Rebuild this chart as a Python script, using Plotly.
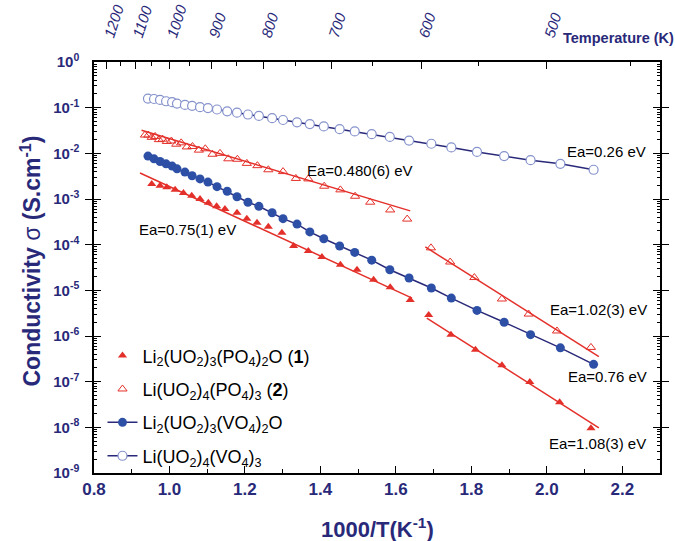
import numpy as np
import plotly.graph_objects as go

# ---------------- data ----------------
# 1000/T (K^-1) and log10(sigma / S.cm^-1)
x_vo_circles = [0.943, 0.959, 0.975, 0.991, 1.007, 1.020, 1.041, 1.060, 1.081, 1.102,
                1.126, 1.153, 1.179, 1.208, 1.237, 1.272, 1.301, 1.338, 1.372, 1.409,
                1.451, 1.491, 1.536, 1.584, 1.635, 1.694, 1.747, 1.815, 1.887, 1.957,
                2.036, 2.124]
logs_li2_vo = [-2.06, -2.12, -2.18, -2.23, -2.28, -2.34, -2.41, -2.49, -2.56, -2.63,
               -2.73, -2.83, -2.95, -3.07, -3.16, -3.30, -3.43, -3.55, -3.72, -3.87,
               -4.03, -4.17, -4.34, -4.55, -4.73, -4.95, -5.17, -5.44, -5.70, -5.97,
               -6.26, -6.62]
logs_li_vo = [-0.80, -0.81, -0.83, -0.86, -0.88, -0.91, -0.94, -0.96, -0.99, -1.01,
              -1.04, -1.08, -1.11, -1.15, -1.18, -1.23, -1.27, -1.32, -1.36, -1.41,
              -1.47, -1.52, -1.58, -1.64, -1.72, -1.79, -1.87, -1.97, -2.06, -2.15,
              -2.23, -2.36]

x_p1_hi = [0.953, 0.975, 0.993, 1.015, 1.037, 1.059, 1.081, 1.103, 1.125, 1.147,
           1.179, 1.205, 1.232, 1.262, 1.298, 1.329, 1.368, 1.404, 1.453, 1.497,
           1.541, 1.585, 1.638]
logs_p1_hi = [-2.67, -2.71, -2.74, -2.80, -2.87, -2.93, -3.00, -3.08, -3.16, -3.22,
              -3.30, -3.43, -3.52, -3.61, -3.74, -4.03, -4.14, -4.27, -4.44, -4.55,
              -4.77, -4.93, -5.21]
x_p1_lo = [1.687, 1.746, 1.811, 1.881, 1.955, 2.034, 2.117]
logs_p1_lo = [-5.54, -5.97, -6.30, -6.64, -7.01, -7.45, -8.02]

x_p2_hi = [0.935, 0.944, 0.953, 0.962, 0.972, 0.982, 0.993, 1.005, 1.018, 1.031,
           1.046, 1.061, 1.078, 1.095, 1.114, 1.134, 1.156, 1.180, 1.205, 1.233,
           1.262, 1.301, 1.335, 1.368, 1.410, 1.453, 1.492, 1.532, 1.585, 1.630]
logs_p2_hi = [-1.60, -1.60, -1.65, -1.63, -1.70, -1.69, -1.74, -1.73, -1.80, -1.77,
              -1.86, -1.85, -1.93, -1.90, -2.02, -2.00, -2.12, -2.13, -2.22, -2.27,
              -2.36, -2.40, -2.55, -2.56, -2.72, -2.80, -2.94, -3.07, -3.24, -3.44]
x_p2_lo = [1.693, 1.744, 1.808, 1.881, 1.952, 2.027, 2.117]
logs_p2_lo = [-4.07, -4.38, -4.72, -5.19, -5.52, -5.89, -6.25]

# Arrhenius fit segments (end points)
fit_p2_hi_x, fit_p2_hi_log = [0.926, 1.638], [-1.494, -3.26]
fit_p2_lo_x, fit_p2_lo_log = [1.678, 2.138], [-4.05, -6.45]
fit_p1_hi_x, fit_p1_hi_log = [0.922, 1.643], [-2.43, -5.17]
fit_p1_lo_x, fit_p1_lo_log = [1.682, 2.138], [-5.61, -8.01]

# top axis: temperatures
temps_major = [1200, 1100, 1000, 900, 800, 700, 600, 500]
temps_minor = [1150, 1050, 950, 850, 750, 650, 550, 450]

y_decades = [0, -1, -2, -3, -4, -5, -6, -7, -8, -9]

ea_labels = ["Ea=0.480(6) eV", "Ea=0.75(1) eV", "Ea=0.26 eV",
             "Ea=1.02(3) eV", "Ea=0.76 eV", "Ea=1.08(3) eV"]

# ---------------- styling ----------------
RED = "#e4302a"
NAVY = "#29297a"
BLUE = "#2d50a6"
LBLUE = "#8592cc"
FONT = "Liberation Sans, Arial, sans-serif"

def p(v):
    return [10 ** a for a in v]

fig = go.Figure()

# fit lines (no legend)
for fx, fl in [(fit_p2_hi_x, fit_p2_hi_log), (fit_p2_lo_x, fit_p2_lo_log),
               (fit_p1_hi_x, fit_p1_hi_log), (fit_p1_lo_x, fit_p1_lo_log)]:
    fig.add_trace(go.Scatter(x=fx, y=p(fl), mode="lines",
                             line=dict(color=RED, width=1.5), showlegend=False,
                             hoverinfo="skip"))

fig.add_trace(go.Scatter(
    x=x_p1_hi + x_p1_lo, y=p(logs_p1_hi + logs_p1_lo), mode="markers",
    marker=dict(symbol="triangle-up", size=8, color=RED, line=dict(width=0)),
    legendgroup="g1",
    name="Li<sub>2</sub>(UO<sub>2</sub>)<sub>3</sub>(PO<sub>4</sub>)<sub>2</sub>O (<b>1</b>)"))
fig.add_trace(go.Scatter(
    x=x_p2_hi + x_p2_lo, y=p(logs_p2_hi + logs_p2_lo), mode="markers",
    marker=dict(symbol="triangle-up-open", size=8, color=RED, line=dict(width=1)),
    legendgroup="g2",
    name="Li(UO<sub>2</sub>)<sub>4</sub>(PO<sub>4</sub>)<sub>3</sub> (<b>2</b>)"))
fig.add_trace(go.Scatter(
    x=x_vo_circles, y=p(logs_li2_vo), mode="lines+markers",
    line=dict(color=NAVY, width=1.5),
    marker=dict(symbol="circle", size=9, color=BLUE),
    legendgroup="g3",
    name="Li<sub>2</sub>(UO<sub>2</sub>)<sub>3</sub>(VO<sub>4</sub>)<sub>2</sub>O"))
fig.add_trace(go.Scatter(
    x=x_vo_circles, y=p(logs_li_vo), mode="lines+markers",
    line=dict(color=NAVY, width=1.5),
    marker=dict(symbol="circle", size=9, color="white", line=dict(color=LBLUE, width=1.2)),
    legendgroup="g4",
    name="Li(UO<sub>2</sub>)<sub>4</sub>(VO<sub>4</sub>)<sub>3</sub>"))

# invisible traces carrying the extra (tick-only) axes
for xa, ya in [("x2", "y"), ("x3", "y"), ("x4", "y"), ("x", "y2"), ("x", "y3")]:
    fig.add_trace(go.Scatter(x=[0.8, 2.3], y=[1e-9, 1e-9], xaxis=xa, yaxis=ya,
                             mode="markers", marker=dict(opacity=0),
                             showlegend=False, hoverinfo="skip"))

ann_pos = [(1.506, -2.384), (1.047, -3.665), (2.158, -1.965),
           (2.137, -5.43), (2.161, -6.887), (2.134, -8.344)]
for txt, (ax, ay) in zip(ea_labels, ann_pos):
    fig.add_annotation(x=ax, y=ay, text=txt, showarrow=False,
                       font=dict(family=FONT, size=15, color="black"))

fig.add_annotation(xref="paper", yref="paper", x=0.825, y=1.0, yshift=24,
                   xanchor="left", yanchor="middle", text="<b>Temperature (K)</b>",
                   showarrow=False, font=dict(family=FONT, size=14.5, color=NAVY))
fig.add_annotation(xref="paper", yref="paper", x=0.5, y=0.0, yshift=-55,
                   xanchor="center", yanchor="middle",
                   text="<b>1000/T(K<sup>-1</sup>)</b>",
                   showarrow=False, font=dict(family=FONT, size=22, color=NAVY))
fig.add_annotation(xref="paper", yref="paper", x=0.0, y=0.5, xshift=-64, yshift=6,
                   xanchor="center", yanchor="middle", textangle=-90,
                   text="<b>Conductivity</b> σ <b>(S.cm<sup>-1</sup>)</b>",
                   showarrow=False, font=dict(family=FONT, size=23, color=NAVY))

tick_common = dict(ticks="inside", tickcolor="black", tickwidth=1.2,
                   showgrid=False, zeroline=False, automargin=False)

fig.update_layout(
    width=675, height=541,
    margin=dict(l=94, r=15, t=62, b=68),
    paper_bgcolor="white", plot_bgcolor="white",
    font=dict(family=FONT, color=NAVY),
    showlegend=True,
    legend=dict(x=0.015, y=0.33, xanchor="left", yanchor="top",
                bgcolor="rgba(0,0,0,0)", font=dict(family=FONT, size=18, color="black"),
                tracegroupgap=7, itemwidth=30),
    xaxis=dict(range=[0.8, 2.3], showline=True, linecolor="black", linewidth=1.5,
               mirror=True, ticklen=7, tickmode="linear", tick0=0.8, dtick=0.2,
               tickformat=".1f",
               tickfont=dict(family=FONT, size=17, color=NAVY, weight="bold"),
               **tick_common),
    xaxis3=dict(range=[0.8, 2.3], overlaying="x", side="bottom", ticklen=4,
                tickmode="linear", tick0=0.9, dtick=0.2, showticklabels=False,
                **tick_common),
    xaxis2=dict(range=[0.8, 2.3], overlaying="x", side="top", ticklen=7,
                tickvals=[1000 / t for t in temps_major],
                ticktext=[str(t) for t in temps_major], tickangle=-72,
                ticklabelstandoff=14,
                tickfont=dict(family=FONT, size=15, color=NAVY, style="italic"),
                **tick_common),
    xaxis4=dict(range=[0.8, 2.3], overlaying="x", side="top", ticklen=4,
                tickvals=[1000 / t for t in temps_minor],
                showticklabels=False, **tick_common),
    yaxis=dict(type="log", range=[-9, 0], showline=True, linecolor="black",
               linewidth=1.5, mirror="allticks", ticklen=7,
               tickvals=[10 ** d for d in y_decades],
               ticktext=[f"10<sup>{d}</sup>" for d in y_decades],
               ticklabelstandoff=10,
               tickfont=dict(family=FONT, size=15, color=NAVY, weight="bold"),
               **tick_common),
    yaxis2=dict(type="log", range=[-9, 0], overlaying="y", side="left",
                ticklen=3, dtick="D1", showticklabels=False, **tick_common),
    yaxis3=dict(type="log", range=[-9, 0], overlaying="y", side="right",
                ticklen=3, dtick="D1", showticklabels=False, **tick_common),
)

fig.write_html("out.html", config={"displayModeBar": False},
               post_script="document.body.style.margin='0px';"
                           "document.body.style.overflow='hidden';")
